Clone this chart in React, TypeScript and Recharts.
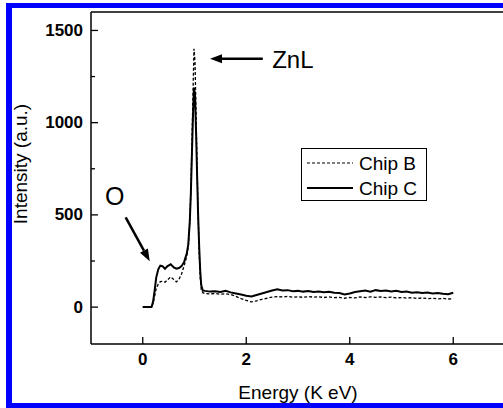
import React from "react";
import { LineChart, Line, XAxis, YAxis, ReferenceLine, ReferenceDot, Legend, Label } from "recharts";

// ---- data ----
const energy = [
  0, 0.08, 0.17, 0.2, 0.23, 0.26, 0.3, 0.34, 0.38, 0.43, 0.48, 0.54, 0.6, 0.65, 0.7, 0.75, 0.8, 0.85, 0.88,
  0.91, 0.93, 0.95, 0.97, 0.99, 1.01, 1.03, 1.05, 1.07, 1.09, 1.11, 1.13, 1.16,
  1.2, 1.3, 1.4, 1.5, 1.6, 1.7, 1.8, 1.9, 2.0, 2.1, 2.2, 2.3, 2.4, 2.5, 2.6, 2.7, 2.8, 2.9, 3.0,
  3.1, 3.2, 3.3, 3.4, 3.5, 3.6, 3.7, 3.8, 3.9, 4.0, 4.1, 4.2, 4.3, 4.4, 4.5, 4.6, 4.7, 4.8, 4.9, 5.0,
  5.1, 5.2, 5.3, 5.4, 5.5, 5.6, 5.7, 5.8, 5.9, 6.0,
];
const chipB = [
  0, 0, 0, 20, 60, 100, 125, 138, 140, 135, 148, 164, 150, 137, 150, 180, 225, 275, 330,
  460, 640, 880, 1150, 1400, 1330, 1050, 760, 500, 300, 160, 95, 78,
  74, 72, 74, 70, 72, 68, 58, 46, 36, 28, 34, 42, 48, 54, 57, 55, 58, 54, 56,
  53, 57, 54, 56, 52, 55, 51, 53, 48, 52, 50, 55, 52, 56, 53, 55, 51, 54, 50, 52,
  49, 51, 47, 50, 46, 48, 45, 47, 44, 46,
];
const chipC = [
  0, 0, 0, 30, 90, 160, 205, 225, 222, 208, 222, 232, 215, 208, 212, 222, 245, 290, 340,
  470, 620, 830, 1030, 1190, 1150, 950, 720, 500, 330, 200, 120, 90,
  88, 84, 86, 82, 88, 80, 74, 68, 62, 58, 66, 74, 82, 90, 97, 90, 92, 86, 88,
  84, 87, 82, 85, 80, 83, 78, 76, 68, 74, 82, 86, 90, 84, 92, 87, 90, 85, 88, 82,
  84, 78, 80, 76, 79, 74, 77, 72, 70, 78,
];
const xTicks = [0, 2, 4, 6];
const yTicks = [0, 250, 500, 750, 1000, 1250, 1500];
const seriesNames = { chipB: "Chip B", chipC: "Chip C" };

const data = energy.map((e, i) => ({ energy: e, chipB: chipB[i], chipC: chipC[i] }));

// ---- layout ----
const FONT = "'Liberation Sans', Arial, Helvetica, sans-serif";
const M = { top: 12, right: 15, bottom: 20, left: 12 };
const Y_W = 79;
const X_H = 44;
const BLUE = "#0000ff";

const YTick = (props: any) => {
  const { x, y, payload } = props;
  const v = payload.value;
  const major = v % 500 === 0;
  const ax = x + 8;
  return (
    <g>
      <line x1={ax} y1={y} x2={ax + (major ? 7 : 4)} y2={y} stroke="#000" strokeWidth={1.3} />
      {major && (
        <text x={x} y={y} textAnchor="end" dominantBaseline="central" fontFamily={FONT} fontWeight="bold" fontSize={17} fill="#000">
          {v}
        </text>
      )}
    </g>
  );
};

const XTick = (props: any) => {
  const { x, y, payload } = props;
  return (
    <g>
      <line x1={x} y1={y} x2={x} y2={y - 7} stroke="#000" strokeWidth={1.3} />
      <text x={x} y={y + 21} textAnchor="middle" fontFamily={FONT} fontWeight="bold" fontSize={17} fill="#000">
        {payload.value}
      </text>
    </g>
  );
};

const Arrow = (props: any) => {
  const { x1, y1, x2, y2 } = props;
  const a = Math.atan2(y2 - y1, x2 - x1);
  const L = 12;
  const W = 4.5;
  const bx = x2 - L * Math.cos(a);
  const by = y2 - L * Math.sin(a);
  const px = -Math.sin(a) * W;
  const py = Math.cos(a) * W;
  return (
    <g>
      <line x1={x1} y1={y1} x2={bx} y2={by} stroke="#000" strokeWidth={2.5} />
      <polygon points={`${x2},${y2} ${bx + px},${by + py} ${bx - px},${by - py}`} fill="#000" />
    </g>
  );
};

const makeText = (txt: string, size: number, anchor: string) => (p: any) => (
  <text x={p.cx} y={p.cy} textAnchor={anchor} fontFamily={FONT} fontSize={size} fill="#000">
    {txt}
  </text>
);

const LegendBox = (props: any) => {
  const payload = (props.payload || []).slice().sort((a: any, b: any) => (a.value < b.value ? -1 : 1));
  return (
    <svg width={126} height={53} style={{ display: "block" }}>
      <rect x={0.5} y={0.5} width={125} height={52} fill="#fff" stroke="#000" strokeWidth={1} />
      {payload.map((e: any, i: number) => {
        const yy = 15 + i * 25;
        const dashed = e.dataKey === "chipB";
        return (
          <g key={i}>
            <line x1={6} y1={yy} x2={52} y2={yy} stroke="#000" strokeWidth={dashed ? 1.2 : 2} strokeDasharray={dashed ? "3 2" : undefined} />
            <text x={58} y={yy} dominantBaseline="central" fontFamily={FONT} fontSize={19} fill="#000">
              {e.value}
            </text>
          </g>
        );
      })}
    </svg>
  );
};

export default function App() {
  return (
    <div style={{ position: "absolute", left: 0, top: 0, width: 503, height: 408, overflow: "hidden", background: "#fff" }}>
      <LineChart width={520} height={408} data={data} margin={M}>
        <XAxis
          type="number"
          dataKey="energy"
          domain={[-1, 7]}
          ticks={xTicks}
          tick={<XTick />}
          tickLine={false}
          tickSize={0}
          tickMargin={0}
          height={X_H}
          axisLine={{ stroke: "#000", strokeWidth: 1.5 }}
          allowDataOverflow
        >
          <Label
            content={() => (
              <text x={298} y={399} textAnchor="middle" fontFamily={FONT} fontSize={19} fill="#000">
                Energy (K eV)
              </text>
            )}
          />
        </XAxis>
        <YAxis
          type="number"
          domain={[-200, 1600]}
          ticks={yTicks}
          tick={<YTick />}
          tickLine={false}
          tickSize={0}
          tickMargin={8}
          width={Y_W}
          interval={0}
          axisLine={{ stroke: "#000", strokeWidth: 1.5 }}
          allowDataOverflow
        >
          <Label
            content={() => (
              <text
                x={20}
                y={164}
                textAnchor="middle"
                dominantBaseline="central"
                transform="rotate(-90, 20, 164)"
                fontFamily={FONT}
                fontSize={19}
                fill="#000"
              >
                Intensity (a.u.)
              </text>
            )}
          />
        </YAxis>
        <ReferenceLine y={1600} stroke="#000" strokeWidth={1.5} ifOverflow="extendDomain" />
        <Legend
          layout="vertical"
          align="center"
          verticalAlign="middle"
          content={<LegendBox />}
          wrapperStyle={{ left: 301, top: 148, width: 126, height: 53 }}
        />
        <Line
          dataKey="chipB"
          name={seriesNames.chipB}
          stroke="#000"
          strokeWidth={1.3}
          strokeDasharray="3 2"
          dot={false}
          activeDot={false}
          isAnimationActive={false}
          type="linear"
        />
        <Line
          dataKey="chipC"
          name={seriesNames.chipC}
          stroke="#000"
          strokeWidth={2}
          dot={false}
          activeDot={false}
          isAnimationActive={false}
          type="linear"
        />
        <ReferenceLine segment={[{ x: 2.32, y: 1346 }, { x: 1.3, y: 1346 }]} shape={<Arrow />} />
        <ReferenceLine segment={[{ x: -0.33, y: 486 }, { x: 0.135, y: 249 }]} shape={<Arrow />} />
        <ReferenceDot x={2.5} y={1298} r={0} shape={makeText("ZnL", 24, "start")} />
        <ReferenceDot x={-0.54} y={552} r={0} shape={makeText("O", 25, "middle")} />
      </LineChart>
      <div style={{ position: "absolute", left: 6, top: 3, width: 497, height: 5, background: BLUE }} />
      <div style={{ position: "absolute", left: 6, top: 3, width: 6, height: 405, background: BLUE }} />
      <div style={{ position: "absolute", left: 6, top: 403, width: 497, height: 5, background: BLUE }} />
    </div>
  );
}
